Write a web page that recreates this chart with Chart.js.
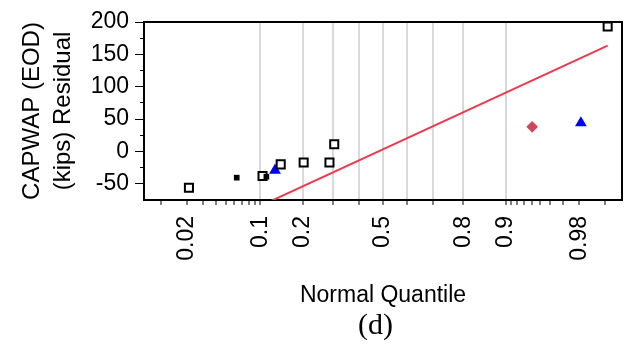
<!DOCTYPE html>
<html>
<head>
<meta charset="utf-8">
<script src="https://cdn.jsdelivr.net/npm/chart.js@4/dist/chart.umd.min.js"></script>
<style>
  html, body { margin: 0; padding: 0; background: #fff; }
  #wrap { width: 637px; height: 348px; }
</style>
</head>
<body>
<div id="wrap"><canvas id="qq"></canvas></div>
<script>
// points: x = normal quantile (z), y = residual (kips)
const openSquareX = [-2.03, -1.26, -1.07, -0.83, -0.56, -0.51, 2.35]
const openSquareY = [-56, -38, -20, -17, -17, 11, 193]
const smallSquareX = [-1.53, -1.22]
const smallSquareY = [-40.5, -39]
const triangleX = [-1.13, 2.07]
const triangleY = [-29, 44]
const diamondX = [1.56]
const diamondY = [38]
// fitted line end points
const fitX = [-2.03, 2.35]
const fitY = [-135, 163.4]

// probability ticks on the quantile axis
const tickProbs = [0.01, 0.02, 0.03, 0.04, 0.05, 0.06, 0.07, 0.08, 0.09,
  0.1, 0.2, 0.3, 0.4, 0.5, 0.6, 0.7, 0.8, 0.9,
  0.91, 0.92, 0.93, 0.94, 0.95, 0.96, 0.97, 0.98, 0.99]
const labelProbs = [0.02, 0.1, 0.2, 0.5, 0.8, 0.9, 0.98]
const gridProbs = [0.1, 0.2, 0.3, 0.4, 0.5, 0.6, 0.7, 0.8, 0.9]
const yMajor = [-50, 0, 50, 100, 150, 200]
const yMinor = [-25, 25, 75, 125, 175]

// inverse normal cdf (Acklam)
function qnorm(p) {
  var a = [-3.969683028665376e+01, 2.209460984245205e+02, -2.759285104469687e+02, 1.383577518672690e+02, -3.066479806614716e+01, 2.506628277459239e+00]
  var b = [-5.447609879822406e+01, 1.615858368580409e+02, -1.556989798598866e+02, 6.680131188771972e+01, -1.328068155288572e+01]
  var c = [-7.784894002430293e-03, -3.223964580411365e-01, -2.400758277161838e+00, -2.549732539343734e+00, 4.374664141464968e+00, 2.938163982698783e+00]
  var d = [7.784695709041462e-03, 3.224671290700398e-01, 2.445134137142996e+00, 3.754408661907416e+00]
  var pl = 0.02425, q, r
  if (p < pl) {
    q = Math.sqrt(-2 * Math.log(p))
    return (((((c[0]*q+c[1])*q+c[2])*q+c[3])*q+c[4])*q+c[5]) / ((((d[0]*q+d[1])*q+d[2])*q+d[3])*q+1)
  }
  if (p > 1 - pl) {
    q = Math.sqrt(-2 * Math.log(1 - p))
    return -(((((c[0]*q+c[1])*q+c[2])*q+c[3])*q+c[4])*q+c[5]) / ((((d[0]*q+d[1])*q+d[2])*q+d[3])*q+1)
  }
  q = p - 0.5
  r = q * q
  return (((((a[0]*r+a[1])*r+a[2])*r+a[3])*r+a[4])*r+a[5])*q / (((((b[0]*r+b[1])*r+b[2])*r+b[3])*r+b[4])*r+1)
}

function pts(xs, ys) {
  return xs.map((x, i) => ({x: x, y: ys[i]}))
}

Chart.defaults.font.family = "'Liberation Sans', Arial, sans-serif"
Chart.defaults.color = '#000'

// box around the plot area
const frame = {
  id: 'frame',
  beforeDatasetsDraw(chart) {
    const a = chart.chartArea, ctx = chart.ctx
    ctx.save()
    ctx.strokeStyle = '#000'
    ctx.lineWidth = 2
    ctx.strokeRect(a.left, a.top, a.right - a.left, a.bottom - a.top)
    ctx.restore()
  }
}

var qq = new Chart(document.getElementById('qq'), {
  type: 'scatter',
  data: {
    datasets: [
      {
        data: pts(smallSquareX, smallSquareY),
        pointStyle: 'rect', pointRadius: 4, borderWidth: 0,
        backgroundColor: '#000', borderColor: '#000'
      },
      {
        data: pts(openSquareX, openSquareY),
        pointStyle: 'rect', pointRadius: 5.7, borderWidth: 2,
        backgroundColor: '#fff', borderColor: '#000'
      },
      {
        data: pts(triangleX, triangleY),
        pointStyle: 'triangle', pointRadius: 6.8, borderWidth: 0,
        backgroundColor: '#0000ff', borderColor: '#0000ff'
      },
      {
        data: pts(diamondX, diamondY),
        pointStyle: 'rectRot', pointRadius: 5.8, borderWidth: 0,
        backgroundColor: '#d0465a', borderColor: '#d0465a'
      },
      {
        data: pts(fitX, fitY),
        showLine: true, pointRadius: 0, borderWidth: 2,
        borderColor: '#f0384d', backgroundColor: '#f0384d'
      }
    ]
  },
  options: {
    responsive: true,
    maintainAspectRatio: false,
    animation: false,
    events: [],
    layout: { padding: { left: 0, right: 15, top: 22, bottom: 0 } },
    plugins: {
      legend: { display: false },
      tooltip: { enabled: false },
      title: {
        // trailing spaces nudge the label a little left of the plot centre, as in the figure
        display: true, position: 'bottom', fullSize: false, text: '(d)\u00a0\u00a0', color: '#000',
        font: { family: "'Liberation Serif', 'Times New Roman', serif", size: 30, weight: 'normal', lineHeight: 1 },
        padding: { top: 2, bottom: 7 }
      }
    },
    scales: {
      x: {
        type: 'linear', position: 'bottom', min: -2.5, max: 2.5,
        afterBuildTicks: s => { s.ticks = tickProbs.map(p => ({value: qnorm(p)})) },
        afterFit: s => {
          s.height = 109
          s.paddingLeft = 0
          s.paddingRight = 0
        },
        ticks: {
          autoSkip: false, minRotation: 90, maxRotation: 90, padding: 11,
          font: { size: 23 },
          callback: (v, i) => labelProbs.includes(tickProbs[i]) ? String(tickProbs[i]) : ''
        },
        grid: {
          color: c => gridProbs.includes(tickProbs[c.index]) ? '#d9d9d9' : 'rgba(0,0,0,0)',
          lineWidth: 2, tickColor: '#000', tickWidth: 1, tickLength: 5
        },
        border: { color: '#000', width: 2 },
        title: { display: true, text: 'Normal Quantile', font: { size: 23 }, padding: { top: 0, bottom: 0 } }
      },
      y: {
        type: 'linear', position: 'left', weight: 1, min: -75, max: 200,
        afterBuildTicks: s => { s.ticks = yMajor.map(v => ({value: v})) },
        afterFit: s => { s.width = 144 },
        ticks: { padding: 6, font: { size: 23 } },
        grid: { drawOnChartArea: false, tickLength: 9, tickColor: '#000', tickWidth: 1 },
        border: { color: '#000', width: 2 },
        title: {
          display: true, text: ['CAPWAP (EOD)', '(kips) Residual'],
          font: { size: 24, lineHeight: 1.28 }, padding: { top: 17, bottom: 0 }
        }
      },
      yMinor: {
        type: 'linear', position: 'left', weight: 0, min: -75, max: 200,
        afterBuildTicks: s => { s.ticks = yMinor.map(v => ({value: v})) },
        afterFit: s => { s.width = 0 },
        ticks: { display: false },
        grid: { drawOnChartArea: false, tickLength: 4, tickColor: '#000', tickWidth: 1 },
        border: { display: false }
      }
    }
  },
  plugins: [frame]
})
</script>
</body>
</html>
